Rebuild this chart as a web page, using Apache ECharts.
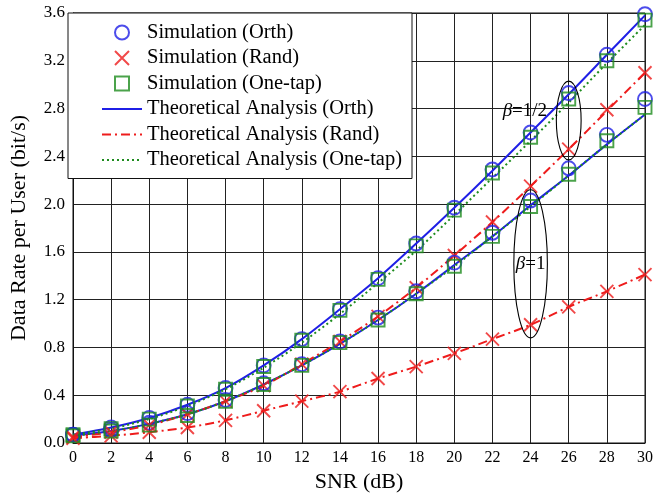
<!DOCTYPE html>
<html>
<head>
<meta charset="utf-8">
<script src="https://cdn.jsdelivr.net/npm/echarts@6/dist/echarts.min.js"></script>
<style>
  html, body { margin: 0; padding: 0; background: #fff; }
  #myChart { width: 665px; height: 498px; }
</style>
</head>
<body>
<div id="myChart"></div>
<script>
// x axis: SNR (dB)
var snr = [0, 2, 4, 6, 8, 10, 12, 14, 16, 18, 20, 22, 24, 26, 28, 30];

// beta = 1/2
var simOrthHalf   = [0.07, 0.13, 0.21, 0.32, 0.46, 0.65, 0.87, 1.12, 1.38, 1.67, 1.97, 2.29, 2.60, 2.93, 3.25, 3.59];
var simRandHalf   = [0.05, 0.09, 0.15, 0.24, 0.35, 0.48, 0.66, 0.85, 1.06, 1.30, 1.57, 1.85, 2.15, 2.46, 2.79, 3.10];
var simOneHalf    = [0.07, 0.12, 0.20, 0.31, 0.45, 0.64, 0.86, 1.11, 1.37, 1.65, 1.95, 2.26, 2.56, 2.88, 3.20, 3.54];
var thOrthHalf    = [0.07, 0.13, 0.21, 0.32, 0.46, 0.65, 0.87, 1.12, 1.38, 1.67, 1.97, 2.28, 2.60, 2.92, 3.25, 3.58];
var thRandHalf    = [0.05, 0.09, 0.15, 0.24, 0.35, 0.48, 0.66, 0.85, 1.06, 1.30, 1.57, 1.85, 2.15, 2.46, 2.78, 3.10];
var thOneHalf     = [0.07, 0.12, 0.20, 0.31, 0.45, 0.63, 0.84, 1.08, 1.34, 1.61, 1.91, 2.22, 2.53, 2.85, 3.18, 3.50];

// beta = 1
var simOrthOne    = [0.07, 0.11, 0.17, 0.25, 0.36, 0.50, 0.66, 0.85, 1.05, 1.27, 1.51, 1.76, 2.03, 2.30, 2.58, 2.88];
var simRandOne    = [0.04, 0.06, 0.09, 0.13, 0.19, 0.27, 0.35, 0.43, 0.54, 0.64, 0.75, 0.87, 0.99, 1.14, 1.27, 1.41];
var simOneOne     = [0.06, 0.10, 0.15, 0.23, 0.35, 0.49, 0.65, 0.84, 1.03, 1.25, 1.48, 1.73, 1.98, 2.25, 2.53, 2.81];
var thOrthOne     = [0.06, 0.10, 0.16, 0.24, 0.35, 0.49, 0.65, 0.83, 1.03, 1.25, 1.49, 1.73, 1.99, 2.24, 2.50, 2.75];
var thRandOne     = [0.04, 0.06, 0.09, 0.13, 0.19, 0.27, 0.35, 0.43, 0.54, 0.64, 0.75, 0.87, 0.99, 1.14, 1.27, 1.41];
var thOneOne      = [0.06, 0.10, 0.16, 0.24, 0.35, 0.49, 0.65, 0.83, 1.03, 1.25, 1.48, 1.73, 1.98, 2.24, 2.50, 2.75];

var names = [
  'Simulation (Orth)',
  'Simulation (Rand)',
  'Simulation (One-tap)',
  'Theoretical Analysis (Orth)',
  'Theoretical Analysis (Rand)',
  'Theoretical Analysis (One-tap)'
];

// ellipse annotations: [x, y, rx (dB), ry (bit/s)]
var ellipses = [[26, 2.70, 0.65, 0.33], [24, 1.50, 0.88, 0.62]];
// labels: [x, y, text]
var betaLabels = [[23.7, 2.78, '1/2'], [24, 1.50, '1']];

var BLUE = '#1f1fe6';
var RED = '#ee1c1c';
var GREEN = '#1e8c1e';
var FONT = '"Liberation Serif", "DejaVu Serif", serif';

function pairs(ys) {
  return snr.map(function (x, i) { return [x, ys[i]]; });
}

function scatter(name, ys, symbol, size, color) {
  return {
    name: name,
    type: 'scatter',
    data: pairs(ys),
    symbol: symbol,
    symbolSize: size,
    symbolKeepAspect: true,
    itemStyle: { color: 'rgba(0,0,0,0)', borderColor: color, borderWidth: 1.9 },
    z: 5
  };
}

function line(name, ys, color, type, width) {
  return {
    name: name,
    type: 'line',
    data: pairs(ys),
    smooth: 0.3,
    symbol: 'none',
    showSymbol: false,
    lineStyle: { color: color, type: type, width: width },
    itemStyle: { color: color },
    z: 3
  };
}

var CROSS = 'path://M0,0L10,10M10,0L0,10';
var SQUARE = 'path://M0,0L10,0L10,10L0,10Z';

function renderEllipse(params, api) {
  var c = api.coord([api.value(0), api.value(1)]);
  var s = api.size([api.value(2), api.value(3)]);
  return {
    type: 'ellipse',
    shape: { cx: c[0], cy: c[1], rx: s[0], ry: s[1] },
    style: { fill: null, stroke: '#000', lineWidth: 1.1 }
  };
}

function renderLabel(params, api) {
  var c = api.coord([api.value(0), api.value(1)]);
  return {
    type: 'text',
    x: c[0],
    y: c[1],
    style: {
      text: '{b|β}=' + betaLabels[params.dataIndex][2],
      align: 'center',
      verticalAlign: 'middle',
      fill: '#000',
      font: '19px ' + FONT,
      rich: { b: { fontStyle: 'italic', fontSize: 19, fontFamily: FONT } }
    }
  };
}

// legend entries: hide the symbol drawn on line icons
var legendData = names.map(function (n, i) {
  if (i < 3) return { name: n };
  return { name: n, itemStyle: { opacity: 0 } };
});

var myChart = echarts.init(document.getElementById('myChart'));
myChart.setOption({
  animation: false,
  backgroundColor: '#fff',
  textStyle: { fontFamily: FONT },
  grid: {
    show: true,
    left: 68,
    right: 20,
    top: 13,
    bottom: 53,
    borderColor: '#111',
    borderWidth: 1,
    backgroundColor: '#fff'
  },
  legend: {
    data: legendData,
    orient: 'vertical',
    left: 68,
    top: 13,
    itemWidth: 40,
    itemHeight: 14,
    itemGap: 4.5,
    padding: [9, 10, 8, 33],
    backgroundColor: '#fff',
    borderColor: '#111',
    borderWidth: 1,
    borderRadius: 0,
    textStyle: { fontFamily: FONT, fontSize: 20.5, color: '#000' }
  },
  xAxis: {
    type: 'value',
    min: 0,
    max: 30,
    interval: 2,
    name: 'SNR (dB)',
    nameLocation: 'middle',
    nameGap: 28,
    nameTextStyle: { fontFamily: FONT, fontSize: 22, color: '#000' },
    axisLine: { lineStyle: { color: '#111', width: 1 } },
    axisTick: { show: false },
    axisLabel: { fontFamily: FONT, fontSize: 16, color: '#000', margin: 7 },
    splitLine: { lineStyle: { color: '#222', width: 1 } }
  },
  yAxis: {
    type: 'value',
    min: 0,
    max: 3.6,
    interval: 0.4,
    name: 'Data Rate per User (bit/s)',
    nameLocation: 'middle',
    nameGap: 43,
    nameTextStyle: { fontFamily: FONT, fontSize: 22, color: '#000' },
    axisLine: { show: true, lineStyle: { color: '#111', width: 1 } },
    axisTick: { show: false },
    axisLabel: {
      fontFamily: FONT, fontSize: 17, color: '#000', margin: 8,
      formatter: function (v) { return v.toFixed(1); }
    },
    splitLine: { lineStyle: { color: '#222', width: 1 } }
  },
  series: [
    line(names[3], thOrthHalf, BLUE, 'solid', 2),
    line(names[3], thOrthOne, BLUE, 'solid', 2),
    line(names[4], thRandHalf, RED, [9, 4, 2, 4], 2),
    line(names[4], thRandOne, RED, [9, 4, 2, 4], 2),
    line(names[5], thOneHalf, GREEN, [2, 3], 2),
    line(names[5], thOneOne, GREEN, [2, 3], 2),
    scatter(names[0], simOrthHalf, 'circle', 14, BLUE),
    scatter(names[1], simRandHalf, CROSS, 13, RED),
    scatter(names[2], simOneHalf, SQUARE, 13, GREEN),
    scatter(names[0], simOrthOne, 'circle', 14, BLUE),
    scatter(names[1], simRandOne, CROSS, 13, RED),
    scatter(names[2], simOneOne, SQUARE, 13, GREEN),
    {
      type: 'custom',
      renderItem: renderEllipse,
      data: ellipses,
      silent: true,
      z: 6
    },
    {
      type: 'custom',
      renderItem: renderLabel,
      data: betaLabels.map(function (d) { return [d[0], d[1]]; }),
      silent: true,
      z: 7
    }
  ]
});
</script>
</body>
</html>
